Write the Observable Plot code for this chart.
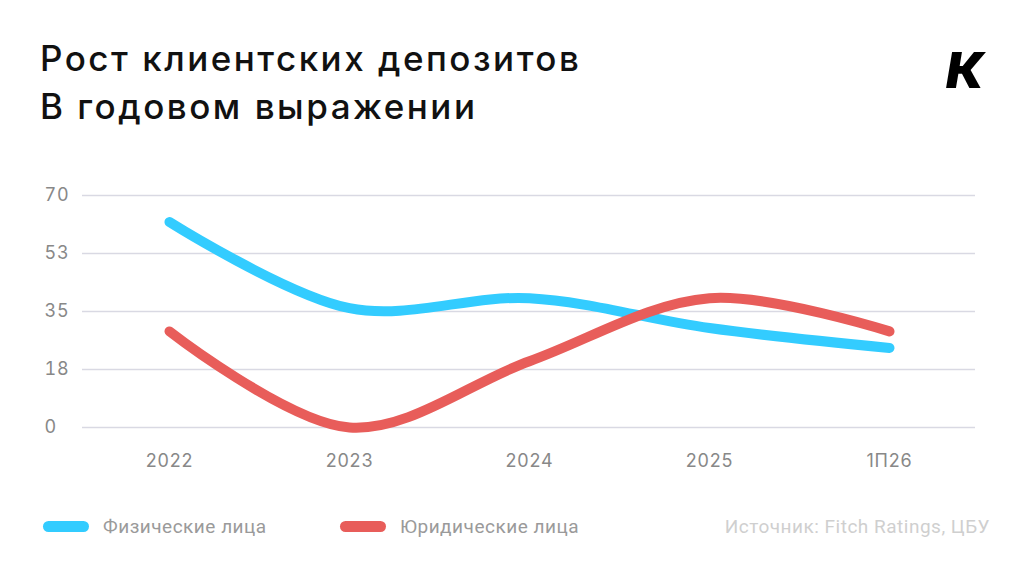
<!DOCTYPE html>
<html>
<head>
<meta charset="utf-8">
<script src="https://cdn.jsdelivr.net/npm/d3@7"></script>
<script src="https://cdn.jsdelivr.net/npm/@observablehq/plot@0.6"></script>
<style>
  html, body { margin: 0; padding: 0; background: #fff; }
  #root { position: relative; width: 1024px; height: 569px; overflow: hidden; font-family: "Inter", "Noto Sans", sans-serif; }
  #title { position: absolute; left: 40px; top: 34px; font-size: 35px; font-weight: 500; line-height: 48px; color: #111; letter-spacing: 2.5px; }
  #logo { position: absolute; left: 946px; top: 40px; font-size: 50px; font-weight: 900; font-style: italic; color: #000; font-family: "Inter", sans-serif; letter-spacing: -2px; }
  #chart { position: absolute; left: 0; top: 170px; }
  .leg { position: absolute; top: 515px; font-size: 19px; letter-spacing: 0.5px; color: #9a9a9a; display: flex; align-items: center; font-family: "Roboto", sans-serif; }
  .sw { width: 46px; height: 11px; border-radius: 6px; margin-right: 14px; }
  #src { position: absolute; right: 34px; top: 515px; font-size: 19px; letter-spacing: 0.5px; color: #cfcfcf; font-family: "Roboto", sans-serif; }
</style>
</head>
<body>
<div id="root">
  <div id="title">Рост клиентских депозитов<br>В годовом выражении</div>
  <div id="logo">К</div>
  <div id="chart"></div>
  <div class="leg" style="left:43px"><div class="sw" style="background:#33ccff"></div>Физические лица</div>
  <div class="leg" style="left:340px"><div class="sw" style="background:#e85d5a"></div>Юридические лица</div>
  <div id="src">Источник: Fitch Ratings, ЦБУ</div>
</div>
<script>
const periods = ["2022", "2023", "2024", "2025", "1П26"];
const individuals = [62, 36, 39, 30, 24];
const legalEntities = [29, 0, 20, 39, 29];
const yTicks = [0, 17.5, 35, 52.5, 70];
const seriesNames = ["Физические лица", "Юридические лица"];
const seriesColors = ["#33ccff", "#e85d5a"];

const data = [
  ...periods.map((p, i) => ({period: p, value: individuals[i], series: seriesNames[0]})),
  ...periods.map((p, i) => ({period: p, value: legalEntities[i], series: seriesNames[1]}))
];

const chart = Plot.plot({
  width: 1024,
  height: 310,
  marginTop: 25,
  marginBottom: 53,
  marginLeft: 82,
  marginRight: 49,
  style: {fontFamily: "Inter, sans-serif", fontSize: "18px", color: "#888", letterSpacing: "0.8px"},
  x: {type: "point", domain: periods, padding: 0.47, label: null},
  y: {domain: [0, 70], label: null},
  color: {domain: seriesNames, range: seriesColors},
  marks: [
    Plot.gridY(yTicks, {stroke: "#d9d9e3", strokeOpacity: 1, strokeWidth: 1.3}),
    Plot.axisY(yTicks, {tickSize: 0, tickPadding: 0, textAnchor: "start", dx: -38, tickFormat: d => Math.round(d), fill: "#888", fontSize: 18, label: null}),
    Plot.axisX({tickSize: 0, tickPadding: 27, fill: "#888", fontSize: 18, label: null}),
    Plot.line(data, {x: "period", y: "value", z: "series", stroke: "series", strokeWidth: 10, curve: "catmull-rom", strokeLinecap: "round", strokeLinejoin: "round"})
  ]
});
document.getElementById("chart").appendChild(chart);
</script>
</body>
</html>
